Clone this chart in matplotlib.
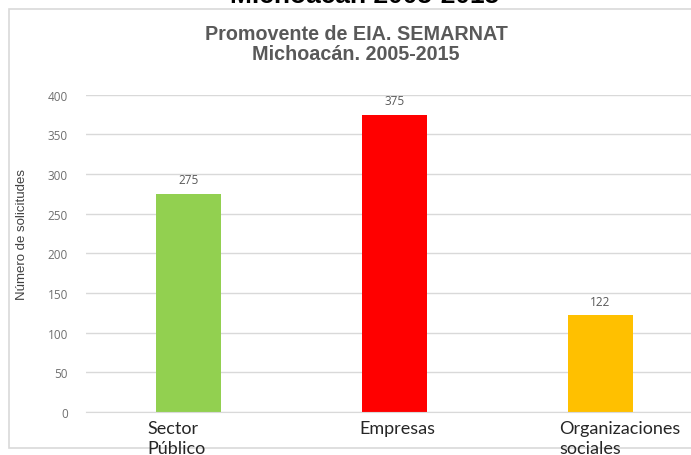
import matplotlib.pyplot as plt
from matplotlib.patches import Rectangle

categories = ["Sector\nPúblico", "Empresas", "Organizaciones\nsociales"]
values = [275, 375, 122]
colors = ["#92D050", "#FF0000", "#FFC000"]
yticks = [0, 50, 100, 150, 200, 250, 300, 350, 400]

fig = plt.figure(figsize=(6.91, 4.56), dpi=100)

# outer chart frame
fig.patches.append(Rectangle((9 / 691, 7 / 456), 700 / 691, 439 / 456, transform=fig.transFigure,
                             facecolor="white", edgecolor="#d9d9d9", linewidth=1.2, zorder=-5))

# cut-off heading at the very top
fig.text(365 / 691, 1 - 3 / 456, "Michoacán 2005-2015", ha="center", va="baseline", fontsize=19,
         fontweight="bold", family="Liberation Sans", color="black")

fig.text(356 / 691, 1 - 34 / 456, "Promovente de EIA. SEMARNAT", ha="center", va="center",
         fontsize=14.2, fontweight="bold", family="Liberation Sans", color="#595959")
fig.text(356 / 691, 1 - 55 / 456, "Michoacán. 2005-2015", ha="center", va="center",
         fontsize=14.2, fontweight="bold", family="Liberation Sans", color="#595959")

ax = fig.add_axes([86 / 691, 43 / 456, 617 / 691, 317.3 / 456])
ax.set_zorder(2)
ax.set_facecolor("none")
x = list(range(len(values)))
bars = ax.bar(x, values, width=0.316, color=colors, zorder=2)
ax.set_xlim(-0.5, 2.5)
ax.set_ylim(0, 400)
ax.set_yticks(yticks)
ax.grid(axis="y", color="#d9d9d9", linewidth=1, zorder=0)
for s in ["top", "right", "left"]:
    ax.spines[s].set_visible(False)
ax.spines["bottom"].set_color("#d9d9d9")
ax.tick_params(axis="y", length=0, pad=13, labelsize=8.5, labelcolor="#6f6f6f")
ax.tick_params(axis="x", length=0)
ax.set_xticks(x)
ax.set_xticklabels([])
for lab in ax.get_yticklabels():
    lab.set_family("Open Sans")

for b, v in zip(bars, values):
    ax.annotate(str(v), (b.get_x() + b.get_width() / 2, v), xytext=(0, 10), textcoords="offset points",
                ha="center", va="center", fontsize=8.5, color="#595959", family="Open Sans")

# category labels sit left-aligned a bit left of each bar centre
for i, c in enumerate(categories):
    ax.text(i - 0.2 + (0.03 if i == 1 else 0), -0.025, c, transform=ax.get_xaxis_transform(),
            ha="left", va="top", fontsize=13, family="Lato", color="#262626", linespacing=1.33)

fig.text(22 / 691, 1 - 235 / 456, "Número de solicitudes", rotation=90, ha="center", va="center",
         fontsize=9.5, family="Liberation Sans", color="#404040")

fig.savefig("out.png", dpi=100)
